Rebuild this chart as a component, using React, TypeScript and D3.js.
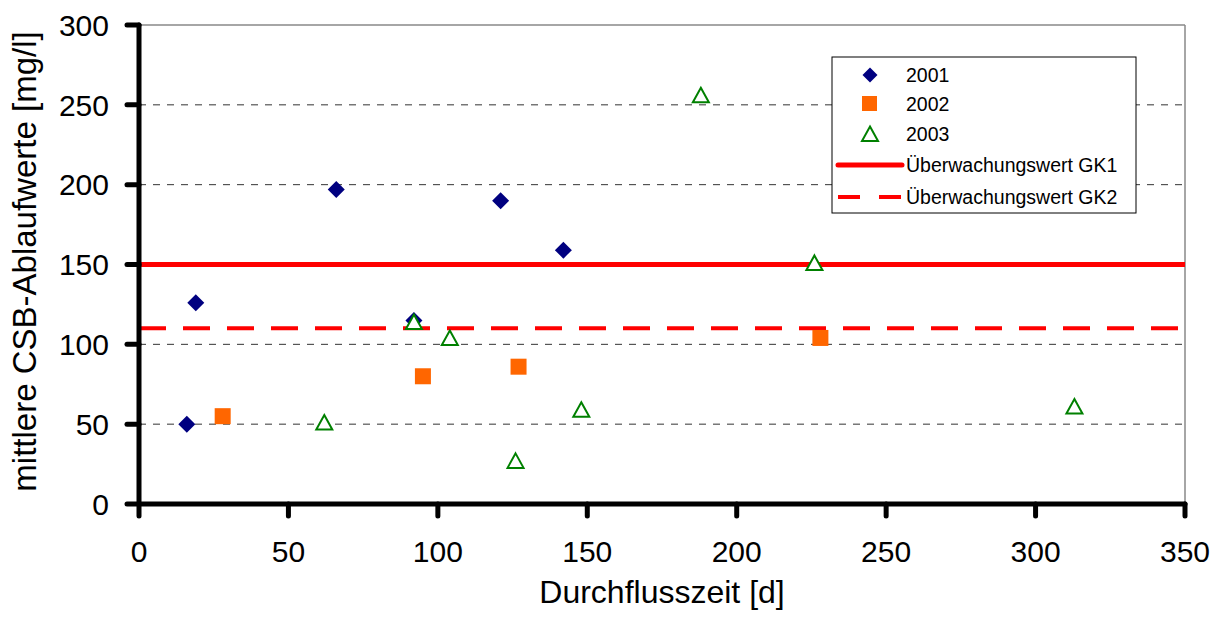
import * as d3 from "d3";

// Durchflusszeit [d] / mittlere CSB-Ablaufwerte [mg/l]
const s2001x = [16, 19, 66, 92, 121, 142];
const s2001y = [50, 126, 197, 115, 190, 159];
const s2002x = [28, 95, 127, 228];
const s2002y = [55, 80, 86, 104];
const s2003x = [62, 92, 104, 126, 148, 188, 226, 313];
const s2003y = [51, 114, 104, 27, 59, 256, 151, 61];

const gk1 = 150;
const gk2 = 110;

const xTicks = [0, 50, 100, 150, 200, 250, 300, 350];
const yTicks = [0, 50, 100, 150, 200, 250, 300];
const gridTicks = [50, 100, 150, 200, 250];

const legendItems = ["2001", "2002", "2003", "Überwachungswert GK1", "Überwachungswert GK2"];

const font = "Arial, 'Liberation Sans', Helvetica, sans-serif";

const App = () => {
  const W = 1220;
  const H = 621;
  const m = { top: 25, right: 35, bottom: 117, left: 139 };

  const x = d3.scaleLinear().domain([0, 350]).range([m.left, W - m.right]);
  const y = d3.scaleLinear().domain([0, 300]).range([H - m.bottom, m.top]);

  const hline = d3
    .line<number>()
    .x((d) => x(d))
    .y(() => 0);

  const diamond = (cx: number, cy: number, r = 8.5) =>
    `M${cx},${cy - r}L${cx + r},${cy}L${cx},${cy + r}L${cx - r},${cy}Z`;
  const tri = (cx: number, cy: number) =>
    `M${cx},${cy - 7.5}L${cx + 8},${cy + 7}L${cx - 8},${cy + 7}Z`;

  const x0 = x(0);
  const y0 = y(0);

  // legend
  const lgX = 832;
  const lgY = 57;
  const lgRows = [75, 104, 134, 165, 197];

  return (
    <div style={{ position: "absolute", left: 0, top: 0 }}>
      <svg width={W} height={H} viewBox={`0 0 ${W} ${H}`} style={{ display: "block", background: "#fff" }}>
        {/* grid */}
        {gridTicks.map((t) => (
          <line key={t} x1={x0} x2={x(350)} y1={y(t)} y2={y(t)} stroke="#333" strokeWidth={1} strokeDasharray="7,7" />
        ))}
        {/* frame */}
        <line x1={x0} x2={x(350)} y1={y(300)} y2={y(300)} stroke="#888" strokeWidth={1.5} />
        <line x1={x(350)} x2={x(350)} y1={y(300)} y2={y0} stroke="#888" strokeWidth={1.5} />

        {/* threshold lines */}
        <path
          d={hline([0, 350]) || ""}
          transform={`translate(0,${y(gk1)})`}
          fill="none"
          stroke="#ff0000"
          strokeWidth={5}
        />
        <path
          d={hline([0, 350]) || ""}
          transform={`translate(0,${y(gk2)})`}
          fill="none"
          stroke="#ff0000"
          strokeWidth={4}
          strokeDasharray="27,17"
        />

        {/* series */}
        {s2001x.map((d, i) => (
          <path key={"a" + i} d={diamond(x(d), y(s2001y[i]))} fill="#000080" />
        ))}
        {s2002x.map((d, i) => (
          <rect key={"b" + i} x={x(d) - 8} y={y(s2002y[i]) - 8} width={16} height={16} fill="#ff6600" />
        ))}
        {s2003x.map((d, i) => (
          <path key={"c" + i} d={tri(x(d), y(s2003y[i]))} fill="#fff" stroke="#008000" strokeWidth={2} />
        ))}

        {/* axes */}
        <line x1={x0} x2={x0} y1={y(300)} y2={y0} stroke="#000" strokeWidth={5} strokeLinecap="round" />
        <line x1={x0} x2={x(350)} y1={y0} y2={y0} stroke="#000" strokeWidth={5} strokeLinecap="round" />
        {yTicks.map((t) => (
          <g key={"yt" + t}>
            <line x1={x0 - 12} x2={x0} y1={y(t)} y2={y(t)} stroke="#000" strokeWidth={5} strokeLinecap="round" />
            <text x={x0 - 30} y={y(t)} dy="0.36em" textAnchor="end" fontFamily={font} fontSize={30} fill="#000">
              {t}
            </text>
          </g>
        ))}
        {xTicks.map((t) => (
          <g key={"xt" + t}>
            <line x1={x(t)} x2={x(t)} y1={y0} y2={y0 + 12} stroke="#000" strokeWidth={5} strokeLinecap="round" />
            <text x={x(t)} y={562} textAnchor="middle" fontFamily={font} fontSize={30} fill="#000">
              {t}
            </text>
          </g>
        ))}

        {/* axis titles */}
        <text x={(x0 + x(350)) / 2} y={603} textAnchor="middle" fontFamily={font} fontSize={32} fill="#000">
          Durchflusszeit [d]
        </text>
        <text
          transform={`translate(36,${(y(300) + y0) / 2 - 3}) rotate(-90)`}
          textAnchor="middle"
          fontFamily={font}
          fontSize={33}
          fill="#000"
        >
          mittlere CSB-Ablaufwerte [mg/l]
        </text>

        {/* legend */}
        <rect x={lgX} y={lgY} width={304} height={156} fill="#fff" stroke="#000" strokeWidth={1} />
        {legendItems.map((name, i) => {
          const cy = lgRows[i];
          let sym = null;
          if (i === 0) sym = <path d={diamond(870, cy, 7.5)} fill="#000080" />;
          if (i === 1) sym = <rect x={862} y={cy - 8} width={15} height={15} fill="#ff6600" />;
          if (i === 2) sym = <path d={tri(870, cy)} fill="#fff" stroke="#008000" strokeWidth={2} />;
          if (i === 3)
            sym = <line x1={838} x2={902} y1={cy} y2={cy} stroke="#ff0000" strokeWidth={5} strokeLinecap="round" />;
          if (i === 4)
            sym = (
              <line x1={838} x2={902} y1={cy} y2={cy} stroke="#ff0000" strokeWidth={4} strokeDasharray="22,19" />
            );
          return (
            <g key={name}>
              {sym}
              <text x={906} y={cy} dy="0.36em" fontFamily={font} fontSize={19.5} fill="#000">
                {name}
              </text>
            </g>
          );
        })}
      </svg>
    </div>
  );
};

export default App;
